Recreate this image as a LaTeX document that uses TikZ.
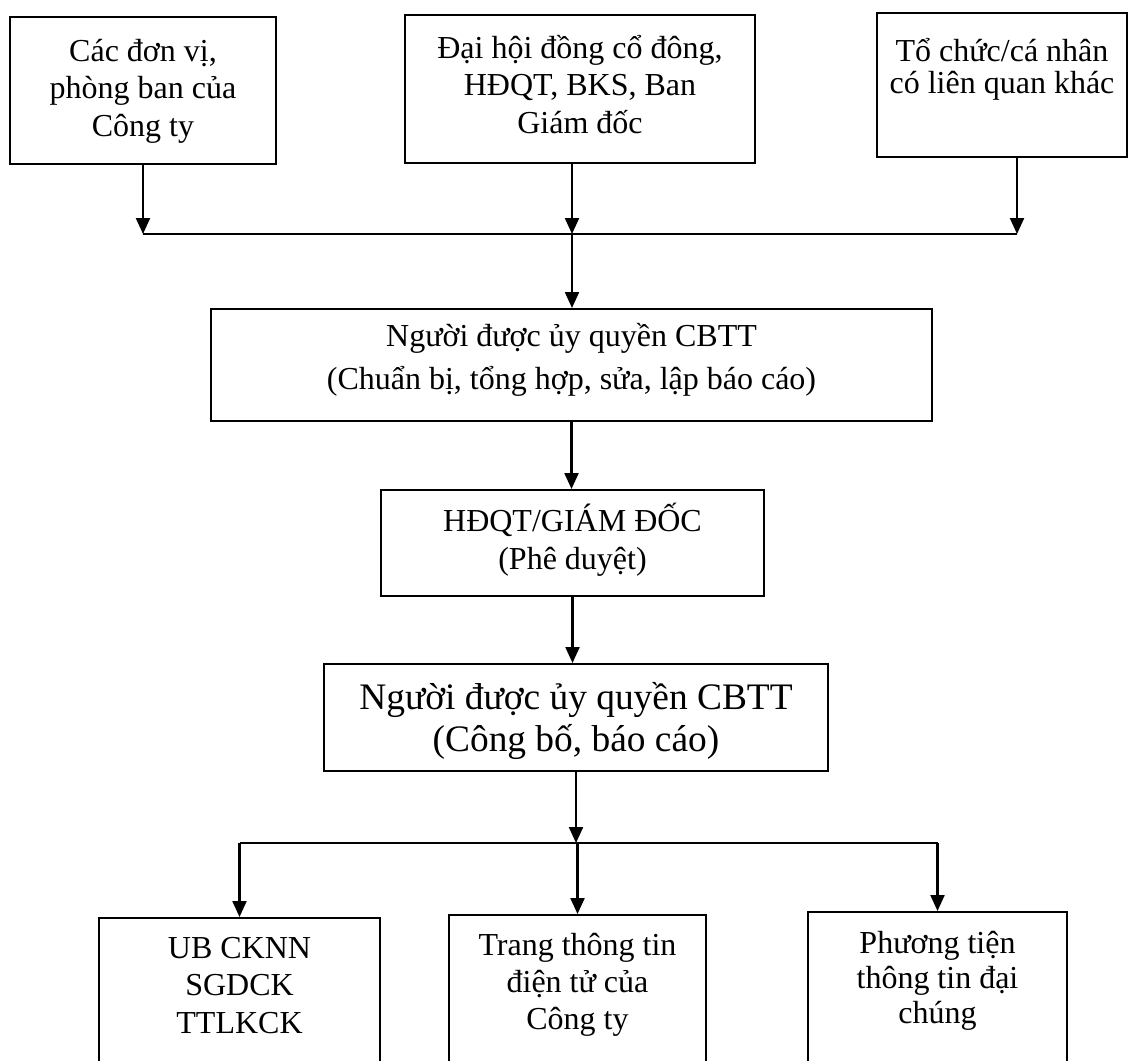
\documentclass[tikz,border=0pt]{standalone}
\usepackage{fontspec}
\setmainfont{Liberation Serif}
\usetikzlibrary{arrows.meta}
\begin{document}
\begin{tikzpicture}[x=0.5pt,y=-0.5pt,
	box/.style={draw,line width=1.1pt,align=center,anchor=north,inner xsep=2pt,inner ysep=0pt},
	arr/.style={line width=1.1pt,-{Triangle[length=8pt,width=7pt]}}]
\useasboundingbox (0,0) rectangle (1133,1060);
\clip (0,0) rectangle (1133,1060);

\node[box,minimum width=133pt,text height=59.5pt,text depth=14pt,font=\fontsize{16}{18.75}\selectfont] (units) at (143,16) {Các đơn vị,\\phòng ban của\\Công ty};
\node[box,minimum width=175pt,text height=59pt,text depth=15pt,font=\fontsize{16}{18.75}\selectfont] (board) at (580,14) {Đại hội đồng cổ đông,\\HĐQT, BKS, Ban\\Giám đốc};
\node[box,minimum width=125pt,text height=40pt,text depth=32pt,font=\fontsize{16}{16}\selectfont] (others) at (1002,12) {Tổ chức/cá nhân\\có liên quan khác};

\coordinate (topL) at (143,234);
\coordinate (topM) at (572,234);
\coordinate (topR) at (1017,234);
\draw[line width=1.1pt] (topL) -- (topR);
\draw[arr] (units.south) -- (topL);
\draw[arr] (topM |- board.south) -- (topM);
\draw[arr] (topR |- others.south) -- (topR);

\node[box,minimum width=360.5pt,text height=40pt,text depth=16pt,font=\fontsize{16}{21.5}\selectfont] (prepare) at (571.5,308) {Người được ủy quyền CBTT\\(Chuẩn bị, tổng hợp, sửa, lập báo cáo)};
\node[box,minimum width=191.5pt,text height=39.5pt,text depth=13.5pt,font=\fontsize{16}{19}\selectfont] (approve) at (572.5,489) {HĐQT/GIÁM ĐỐC\\(Phê duyệt)};
\node[box,minimum width=252pt,text height=43.5pt,text depth=10pt,font=\fontsize{18.7}{21}\selectfont] (publish) at (576,663) {Người được ủy quyền CBTT\\(Công bố, báo cáo)};

\draw[arr] (topM) -- (topM |- prepare.north);
\draw[arr] (prepare.south) -- (prepare.south |- approve.north);
\draw[arr] (approve.south) -- (approve.south |- publish.north);

%receivers
\node[box,minimum width=140.5pt,text height=57.5pt,text depth=50pt,font=\fontsize{16}{18.75}\selectfont] (ub) at (239.5,917) {UB CKNN\\SGDCK\\TTLKCK};
\node[box,minimum width=128.5pt,text height=57pt,text depth=50pt,font=\fontsize{16}{18.5}\selectfont] (web) at (577.5,914) {Trang thông tin\\điện tử của\\Công ty};
\node[box,minimum width=129.5pt,text height=55.5pt,text depth=50pt,font=\fontsize{16}{17.5}\selectfont] (media) at (937.5,911) {Phương tiện\\thông tin đại\\chúng};

\coordinate (botM) at (576,843);
\draw[arr] (publish.south) -- (botM);
\draw[line width=1.1pt] (ub.north |- botM) -- (media.north |- botM);
\foreach \n in {ub,web,media}
	\draw[arr] (\n.north |- botM) -- (\n.north);
\end{tikzpicture}
\end{document}
